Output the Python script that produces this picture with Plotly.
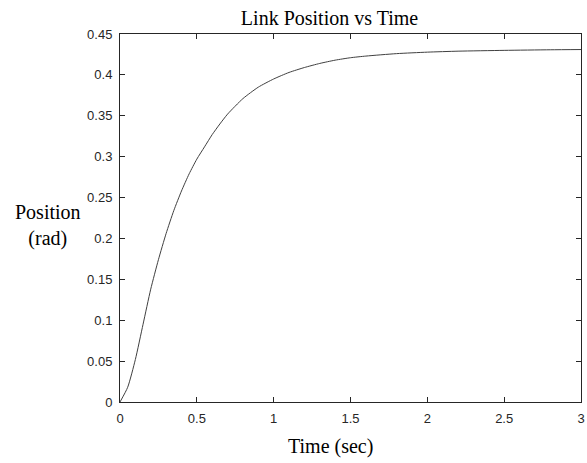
import plotly.graph_objects as go

time_sec = [0.0, 0.05, 0.1, 0.15, 0.2, 0.25, 0.3, 0.35, 0.4, 0.45, 0.5, 0.55, 0.6, 0.65, 0.7,
            0.8, 0.9, 1.0, 1.1, 1.2, 1.3, 1.4, 1.5, 1.6, 1.8, 2.0, 2.2, 2.5, 2.8, 3.0]
position_rad = [0.0, 0.018, 0.052, 0.095, 0.138, 0.174, 0.206, 0.234, 0.258, 0.279, 0.297,
                0.312, 0.327, 0.340, 0.352, 0.371, 0.385, 0.395, 0.403, 0.409, 0.414, 0.418,
                0.421, 0.423, 0.426, 0.4278, 0.429, 0.430, 0.4307, 0.431]
x_ticks = [0, 0.5, 1, 1.5, 2, 2.5, 3]
y_ticks = [0, 0.05, 0.1, 0.15, 0.2, 0.25, 0.3, 0.35, 0.4, 0.45]

axis_col = "#262626"
serif = "Liberation Serif, DejaVu Serif, serif"
sans = "Liberation Sans, Arial, sans-serif"

fig = go.Figure()
fig.add_trace(go.Scatter(x=time_sec, y=position_rad, mode="lines",
                         line=dict(color="#404040", width=1, shape="spline", smoothing=0.6),
                         showlegend=False, hoverinfo="skip"))

common = dict(showgrid=False, zeroline=False, showline=True, linecolor=axis_col, linewidth=1,
              mirror="ticks", ticks="inside", ticklen=5, tickwidth=1, tickcolor=axis_col,
              ticklabeloverflow="allow", ticklabelstandoff=4,
              tickfont=dict(family=sans, size=13, color=axis_col))

fig.update_layout(
    width=587, height=463,
    margin=dict(l=120, r=2, t=34, b=61),
    paper_bgcolor="white", plot_bgcolor="white",
    title=dict(text="Link Position vs Time", x=329.5 / 587, xref="container", xanchor="center",
               y=(463 - 18) / 463, yref="container", yanchor="middle",
               font=dict(family=serif, size=20, color="black")),
    xaxis=dict(range=[0, 3], tickvals=x_ticks, ticktext=[str(v) for v in x_ticks], **common),
    yaxis=dict(range=[0, 0.45], tickvals=y_ticks, ticktext=[f"{v:g}" for v in y_ticks],
               **common),
    annotations=[
        dict(text="Position<br>(rad)", xref="paper", yref="paper",
             x=(47 - 120) / 465, y=(402 - 225) / 368, xanchor="center", yanchor="middle",
             showarrow=False, font=dict(family=serif, size=20, color="black")),
        dict(text="Time (sec)", xref="paper", yref="paper",
             x=(332 - 120) / 465, y=(402 - 446) / 368, xanchor="center", yanchor="middle",
             showarrow=False, font=dict(family=serif, size=20, color="black")),
    ],
)

fig.write_html("out.html")
